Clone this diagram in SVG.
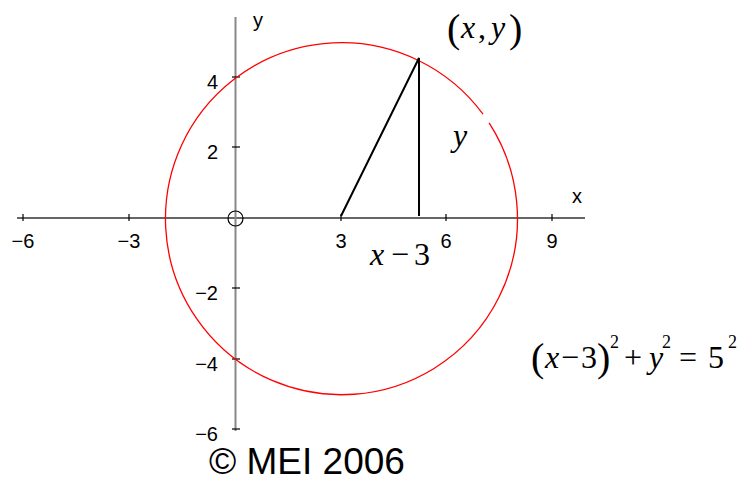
<svg xmlns="http://www.w3.org/2000/svg" width="749" height="482" viewBox="0 0 749 482">
<style>
.ax{font-family:"Liberation Sans",Arial,sans-serif;font-size:20px;fill:#000}
.m{font-family:"Liberation Serif","Times New Roman",serif;font-size:32px;fill:#000}
.i{font-style:italic}
.p{font-size:40px}
.s{font-size:18px}
.tk{stroke:#000;stroke-width:1.2}
</style>
<rect width="749" height="482" fill="#fff"/>
<g id="axes">
  <line x1="17" y1="218" x2="585" y2="218" stroke="#333" stroke-width="1.5"/>
  <line x1="235.5" y1="17" x2="235.5" y2="431" stroke="#888" stroke-width="2"/>
  <g class="tk">
    <line x1="23" y1="214" x2="23" y2="221"/>
    <line x1="129" y1="214" x2="129" y2="221"/>
    <line x1="341" y1="214" x2="341" y2="221"/>
    <line x1="446" y1="214" x2="446" y2="221"/>
    <line x1="552" y1="214" x2="552" y2="221"/>
    <line x1="232" y1="77" x2="240" y2="77"/>
    <line x1="232" y1="147" x2="240" y2="147"/>
    <line x1="232" y1="288" x2="240" y2="288"/>
    <line x1="232" y1="359" x2="240" y2="359"/>
    <line x1="232" y1="429" x2="240" y2="429"/>
  </g>
  <circle cx="235.5" cy="218.5" r="7.5" fill="none" stroke="#000" stroke-width="1.2"/>
  <g class="ax" text-anchor="middle">
    <text x="23" y="248">−6</text>
    <text x="129" y="248">−3</text>
    <text x="341" y="248">3</text>
    <text x="446" y="248">6</text>
    <text x="552" y="248">9</text>
  </g>
  <g class="ax" text-anchor="end">
    <text x="218" y="89">4</text>
    <text x="218" y="159">2</text>
    <text x="218" y="300">−2</text>
    <text x="218" y="371">−4</text>
    <text x="218" y="441">−6</text>
  </g>
  <text class="ax" x="572" y="203">x</text>
  <text class="ax" x="253" y="27">y</text>
</g>
<g id="circle">
  <path d="M 483.0 114.1 A 176 176 0 1 0 489.1 122.9" fill="none" stroke="#f00" stroke-width="1.3"/>
</g>
<g id="triangle" fill="none" stroke="#000" stroke-width="2">
  <polyline points="341,216 419,58 419,216"/>
</g>
<g id="label-point" class="m">
  <text class="p" x="447" y="42">(</text>
  <text class="i" x="461" y="38">x</text>
  <text x="478" y="38">,</text>
  <text class="i" x="491" y="38">y</text>
  <text class="p" x="509" y="42">)</text>
</g>
<g id="label-y" class="m">
  <text class="i" x="453" y="146">y</text>
</g>
<g id="label-xm3" class="m">
  <text class="i" x="370" y="265">x</text>
  <text x="391" y="265">−</text>
  <text x="414" y="265">3</text>
</g>
<g id="equation" class="m">
  <text class="p" x="531" y="371">(</text>
  <text class="i" x="545" y="368">x</text>
  <text x="561" y="368">−</text>
  <text x="581" y="368">3</text>
  <text class="p" x="597" y="371">)</text>
  <text class="s" x="610" y="348">2</text>
  <text x="624" y="368">+</text>
  <text class="i" x="649" y="368">y</text>
  <text class="s" x="662" y="348">2</text>
  <text x="679" y="368">=</text>
  <text x="708" y="368">5</text>
  <text class="s" x="728" y="348">2</text>
</g>
<g id="copyright">
  <text x="209" y="474" font-family="'Liberation Sans',Arial,sans-serif" font-size="37" fill="#000">© MEI 2006</text>
</g>
</svg>
